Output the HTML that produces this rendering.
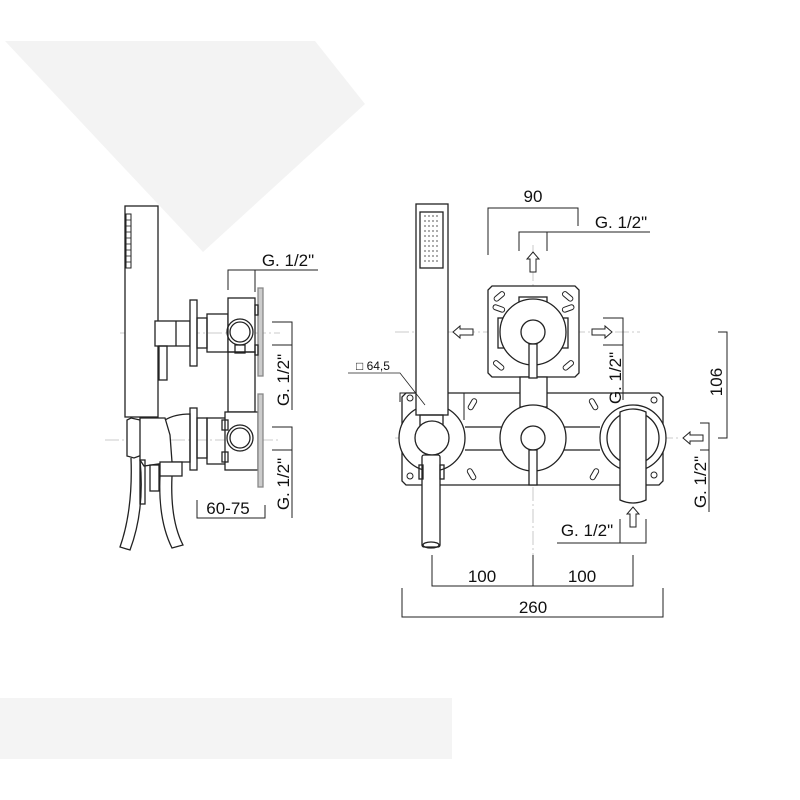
<!DOCTYPE html>
<html><head><meta charset="utf-8"><style>
html,body{margin:0;padding:0;background:#fff}
svg{display:block}
text{font-family:"Liberation Sans",sans-serif;fill:#111}
</style></head><body>
<svg width="800" height="800" viewBox="0 0 800 800" xmlns="http://www.w3.org/2000/svg">
<rect width="800" height="800" fill="#fff"/>
<polygon points="5,41 315,41 365,104 203,252" fill="#f3f3f3"/>
<rect x="0" y="698" width="452" height="61" fill="#f4f4f4"/>

<g fill="none" stroke="#222" stroke-width="1.3">
<g stroke="#bbb" stroke-width="0.8" stroke-dasharray="14,3,2,3">
<line x1="120" y1="333" x2="280" y2="333"/>
<line x1="105" y1="440" x2="280" y2="440"/>
<line x1="395" y1="332" x2="640" y2="332"/>
<line x1="395" y1="438" x2="680" y2="438"/>
<line x1="533" y1="245" x2="533" y2="560"/>
</g>

<!-- LEFT VIEW -->
<rect x="125" y="206" width="33" height="211" fill="#fff"/>
<rect x="126" y="214" width="5" height="54" stroke-width="1"/>
<g stroke-width="0.8"><line x1="126" y1="220" x2="131" y2="220"/><line x1="126" y1="226" x2="131" y2="226"/><line x1="126" y1="232" x2="131" y2="232"/><line x1="126" y1="238" x2="131" y2="238"/><line x1="126" y1="244" x2="131" y2="244"/><line x1="126" y1="250" x2="131" y2="250"/><line x1="126" y1="256" x2="131" y2="256"/><line x1="126" y1="262" x2="131" y2="262"/></g>
<rect x="155" y="321" width="35" height="25" fill="#fff"/>
<line x1="176" y1="321" x2="176" y2="346"/>
<rect x="159" y="346" width="8" height="34"/>
<rect x="190" y="300" width="7" height="66" fill="#fff"/>
<rect x="197" y="318" width="10" height="30"/>
<rect x="207" y="314" width="21" height="38"/>
<rect x="228" y="298" width="27" height="54" fill="#fff"/>
<circle cx="240" cy="332" r="13"/>
<circle cx="240" cy="332" r="10"/>
<rect x="235" y="345" width="10" height="8"/>
<rect x="228" y="352" width="27" height="60"/>
<rect x="258" y="288" width="5" height="88" fill="#ccc" stroke="#888"/>
<rect x="255" y="305" width="3" height="10"/><rect x="255" y="345" width="3" height="10"/>
<rect x="190" y="408" width="7" height="62" fill="#fff"/>
<rect x="197" y="418" width="10" height="40"/>
<rect x="207" y="418" width="21" height="46"/>
<rect x="225" y="412" width="33" height="58" fill="#fff"/>
<rect x="222" y="420" width="6" height="10"/><rect x="222" y="452" width="6" height="10"/>
<circle cx="240" cy="438" r="13"/>
<circle cx="240" cy="438" r="10"/>
<rect x="258" y="394" width="5" height="93" fill="#ccc" stroke="#888"/>
<path d="M131,418 L140,420 L142,455 L134,458 L127,456 L127,420 Z" fill="#fff"/>
<path d="M140,418 L165,418 L170,435 L172,462 L144,466 L140,460 Z" fill="#fff"/>
<path d="M165,420 Q175,414 190,414 L190,462 L172,462"/>
<rect x="160" y="462" width="22" height="14" fill="#fff"/>
<rect x="150" y="465" width="9" height="26"/>
<rect x="140" y="460" width="5" height="44"/>
<path d="M131,458 Q133,510 120,547 L130,550 Q145,510 140,460"/>
<path d="M160,476 Q158,520 172,548 L183,545 Q170,520 172,476"/>

<!-- RIGHT VIEW -->
<path d="M406,393 L659,393 L663,397 L663,481 L659,485 L406,485 L402,481 L402,397 Z" fill="#fff"/>
<path d="M492,286 L575,286 L579,290 L579,373 L575,377 L492,377 L488,373 L488,290 Z" fill="#fff"/>
<rect x="519" y="297" width="28" height="6"/>
<rect x="498" y="318" width="6" height="30"/><rect x="562" y="318" width="6" height="30"/>
<rect x="520" y="377" width="27" height="30" fill="#fff"/>
<line x1="465" y1="427" x2="600" y2="427"/><line x1="465" y1="450" x2="600" y2="450"/>
<g stroke-width="1">
<rect x="493" y="294" width="12" height="5" rx="2.5" transform="rotate(-40 499 296)"/>
<rect x="562" y="294" width="12" height="5" rx="2.5" transform="rotate(40 568 296)"/>
<rect x="493" y="306" width="12" height="5" rx="2.5" transform="rotate(20 499 308)"/>
<rect x="562" y="306" width="12" height="5" rx="2.5" transform="rotate(-20 568 308)"/>
<rect x="493" y="363" width="12" height="5" rx="2.5" transform="rotate(40 499 365)"/>
<rect x="562" y="363" width="12" height="5" rx="2.5" transform="rotate(-40 568 365)"/>
<rect x="466" y="402" width="12" height="5" rx="2.5" transform="rotate(-60 472 404)"/>
<rect x="466" y="472" width="12" height="5" rx="2.5" transform="rotate(60 472 474)"/>
<rect x="588" y="402" width="12" height="5" rx="2.5" transform="rotate(60 594 404)"/>
<rect x="588" y="472" width="12" height="5" rx="2.5" transform="rotate(-60 594 474)"/>
<circle cx="410" cy="398" r="3"/><circle cx="410" cy="476" r="3"/>
<circle cx="654" cy="400" r="3"/><circle cx="654" cy="475" r="3"/>
</g>
<circle cx="533" cy="332" r="33" fill="#fff"/>
<circle cx="533" cy="332" r="12"/>
<rect x="529" y="344" width="8" height="34" fill="#fff"/>
<circle cx="533" cy="438" r="33" fill="#fff"/>
<circle cx="533" cy="438" r="12"/>
<rect x="529" y="450" width="8" height="35" fill="#fff"/>
<path d="M400,402 L400,393 L464,393 L464,420" stroke-width="1"/>
<circle cx="432" cy="438" r="33" fill="#fff"/>
<rect x="416" y="204" width="32" height="211" fill="#fff"/>
<rect x="420" y="212" width="23" height="56"/>
<g fill="none" stroke-width="0.7">
<path d="M424,216 h16 M424,221 h16 M424,226 h16 M424,231 h16 M424,236 h16 M424,241 h16 M424,246 h16 M424,251 h16 M424,256 h16 M424,261 h16" stroke-dasharray="2,2"/>
</g>
<rect x="420" y="415" width="23" height="12"/>
<circle cx="432" cy="438" r="17" fill="#fff"/>
<rect x="422" y="455" width="18" height="92" rx="2" fill="#fff"/>
<rect x="419" y="465" width="4" height="14"/><rect x="440" y="465" width="4" height="14"/>
<ellipse cx="431" cy="545" rx="8" ry="3"/>
<circle cx="633" cy="438" r="33" fill="#fff"/>
<circle cx="633" cy="438" r="26"/>
<path d="M620,412 Q633,406 646,412 L646,500 Q633,506 620,500 Z" fill="#fff"/>

<g stroke-width="1">
<polyline points="228,290 228,270 318,270"/><line x1="255" y1="270" x2="255" y2="292"/>
<polyline points="272,322 292,322 292,410"/><line x1="272" y1="345" x2="292" y2="345"/>
<polyline points="272,427 292,427 292,518"/><line x1="272" y1="450" x2="292" y2="450"/>
<polyline points="197,500 197,518 265,518 265,505"/>
<polyline points="488,255 488,208 578,208 578,226"/>
<polyline points="519,251 519,232 650,232"/><line x1="547" y1="232" x2="547" y2="251"/>
<polyline points="603,318 623,318 623,400"/><line x1="603" y1="345" x2="623" y2="345"/>
<polyline points="718,332 727,332 727,438 718,438"/>
<polyline points="700,423 709,423 709,512"/><line x1="700" y1="450" x2="709" y2="450"/>
<polyline points="557,543 646,543 646,519"/><line x1="620" y1="543" x2="620" y2="519"/>
<polyline points="432,555 432,586 633,586 633,555"/><line x1="533" y1="555" x2="533" y2="586"/>
<polyline points="402,588 402,617 663,617 663,588"/>
<polyline points="348,373 400,373 425,405" stroke-width="0.8"/>
</g>
<g stroke-width="1" fill="#fff">
<path d="M533,252 L539,259 L536,259 L536,272 L530,272 L530,259 L527,259 Z"/>
<path d="M453,332 L460,326 L460,329 L473,329 L473,335 L460,335 L460,338 Z"/>
<path d="M612,332 L605,326 L605,329 L592,329 L592,335 L605,335 L605,338 Z"/>
<path d="M683,438 L690,432 L690,435 L703,435 L703,441 L690,441 L690,444 Z"/>
<path d="M633,507 L639,514 L636,514 L636,527 L630,527 L630,514 L627,514 Z"/>
</g>
</g>

<g font-size="17">
<text x="288" y="266" text-anchor="middle">G. 1/2"</text>
<text transform="translate(289,380) rotate(-90)" text-anchor="middle">G. 1/2"</text>
<text transform="translate(289,484) rotate(-90)" text-anchor="middle">G. 1/2"</text>
<text x="228" y="514" text-anchor="middle">60-75</text>
<text x="533" y="202" text-anchor="middle">90</text>
<text x="621" y="228" text-anchor="middle">G. 1/2"</text>
<text transform="translate(621,378) rotate(-90)" text-anchor="middle">G. 1/2"</text>
<text transform="translate(722,382) rotate(-90)" text-anchor="middle">106</text>
<text transform="translate(706,482) rotate(-90)" text-anchor="middle">G. 1/2"</text>
<text x="587" y="536" text-anchor="middle">G. 1/2"</text>
<text x="482" y="582" text-anchor="middle">100</text>
<text x="582" y="582" text-anchor="middle">100</text>
<text x="533" y="613" text-anchor="middle">260</text>
</g>
<text x="356" y="370" font-size="12">□ 64,5</text>
</svg>
</body></html>
